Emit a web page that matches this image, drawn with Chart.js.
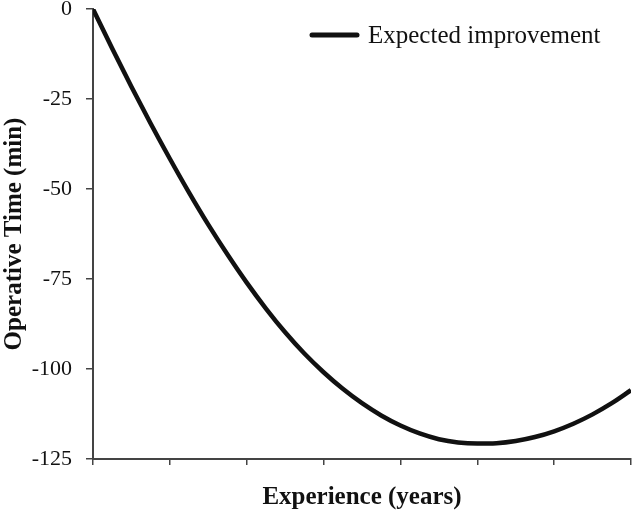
<!DOCTYPE html>
<html>
<head>
<meta charset="utf-8">
<script src="https://cdn.jsdelivr.net/npm/chart.js@4"></script>
<style>
  body { margin: 0; background: #fff; }
  canvas { display: block; }
</style>
</head>
<body>
<canvas id="improvement" width="633" height="513"></canvas>
<script>
// experience in years, read every quarter year off the picture
const years = [0, 0.25, 0.5, 0.75, 1, 1.25, 1.5, 1.75, 2, 2.25, 2.5, 2.75, 3, 3.25, 3.5,
  3.75, 4, 4.25, 4.5, 4.75, 5, 5.25, 5.5, 5.75, 6, 6.25, 6.5, 6.75, 7];
// change in operative time (min)
const improvement = [0, -11, -21.6, -31.8, -41.6, -51, -59.9, -68.2, -76, -83.2, -89.8, -95.7,
  -100.9, -105.5, -109.5, -112.9, -115.7, -117.9, -119.5, -120.4, -120.7, -120.6, -120, -118.9,
  -117.3, -115.2, -112.6, -109.5, -105.9];
const yTicks = [0, -25, -50, -75, -100, -125];
const seriesName = 'Expected improvement';

const serif = '"Liberation Serif", "Times New Roman", serif';

// legend drawn inside the plot, top right
const insideLegend = {
  id: 'insideLegend',
  afterDraw(chart) {
    const ctx = chart.ctx;
    ctx.save();
    ctx.strokeStyle = '#111';
    ctx.lineWidth = 5;
    ctx.lineCap = 'round';
    ctx.beginPath();
    ctx.moveTo(312, 35);
    ctx.lineTo(357, 35);
    ctx.stroke();
    ctx.fillStyle = '#111';
    ctx.font = '25px ' + serif;
    ctx.textBaseline = 'middle';
    ctx.fillText(chart.data.datasets[0].label, 368, 36);
    ctx.restore();
  }
};

const ctx = document.getElementById('improvement').getContext('2d');
const chart = new Chart(ctx, {
  type: 'line',
  data: {
    datasets: [{
      label: seriesName,
      data: years.map((x, i) => ({ x: x, y: improvement[i] })),
      borderColor: '#111',
      borderWidth: 4.5,
      pointRadius: 0,
      fill: false,
      cubicInterpolationMode: 'monotone'
    }]
  },
  options: {
    responsive: false,
    animation: false,
    layout: { padding: { top: 0, right: 2, left: 0, bottom: 0 } },
    plugins: {
      legend: { display: false },
      tooltip: { enabled: false }
    },
    scales: {
      x: {
        type: 'linear',
        min: 0,
        max: 7,
        ticks: { stepSize: 1, display: false },
        grid: { drawOnChartArea: false, drawTicks: true, tickLength: 6, color: '#444', lineWidth: 1.5 },
        border: { color: '#444', width: 2 },
        title: {
          display: true,
          text: 'Experience (years)',
          color: '#111',
          font: { family: serif, size: 25, weight: 'bold' },
          padding: { top: 0, bottom: 0 }
        },
        afterFit(scale) { scale.height = 54; }
      },
      y: {
        min: -125,
        max: 0,
        afterBuildTicks(scale) { scale.ticks = yTicks.map(v => ({ value: v })); },
        ticks: {
          color: '#111',
          padding: 14,
          font: { family: serif, size: 22 }
        },
        grid: { drawOnChartArea: false, drawTicks: true, tickLength: 7, color: '#444', lineWidth: 1.5 },
        border: { color: '#444', width: 2 },
        title: {
          display: true,
          text: 'Operative Time (min)',
          color: '#111',
          font: { family: serif, size: 25, weight: 'bold' },
          padding: { top: 0, bottom: 0 }
        },
        afterFit(scale) {
          scale.width = 93;
          scale.paddingTop = 9;
        }
      }
    }
  },
  plugins: [insideLegend]
});
</script>
</body>
</html>
